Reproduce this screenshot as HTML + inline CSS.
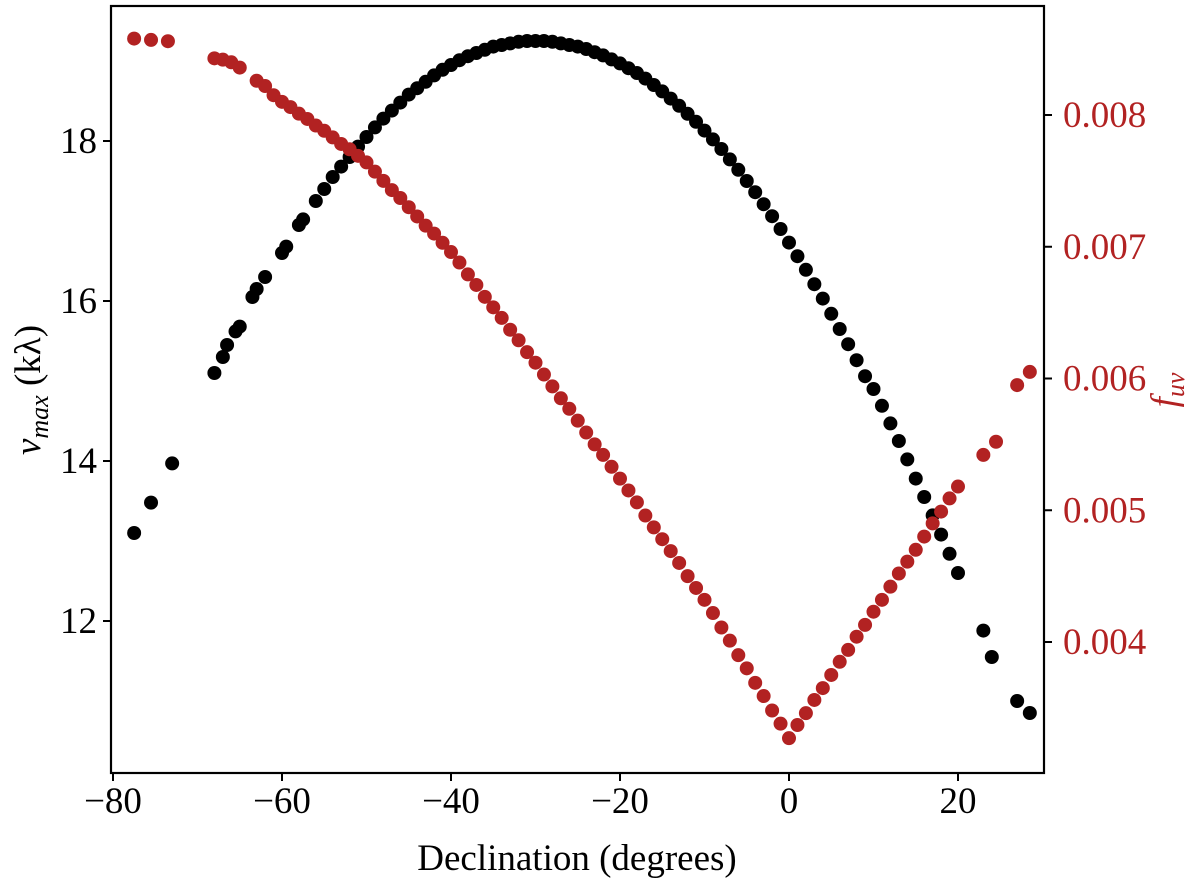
<!DOCTYPE html>
<html><head><meta charset="utf-8"><style>
html,body{margin:0;padding:0;background:#fff}
svg{display:block}
text{font-family:"Liberation Serif",serif}
</style></head><body>
<svg id="chart" width="1200" height="882" xmlns="http://www.w3.org/2000/svg">
<g id="marks"></g>
<g id="axes"></g>
</svg>
<script>
const xTicks=[-80,-60,-40,-20,0,20];
const xTickLabels=["\u221280","\u221260","\u221240","\u221220","0","20"];
const yLeftTicks=[12,14,16,18];
const yLeftTickLabels=["12","14","16","18"];
const yRightTicks=[0.004,0.005,0.006,0.007,0.008];
const yRightTickLabels=["0.004","0.005","0.006","0.007","0.008"];
const vmaxDec=[-77.5,-75.5,-73,-68,-67,-66.5,-65.5,-65,-63.5,-63,-62,-60,-59.5,-58,-57.5,-56,-55,-54,-53,
-52,-51,-50,-49,-48,-47,-46,-45,-44,-43,-42,-41,-40,-39,-38,-37,-36,-35,-34,-33,-32,-31,-30,
-29,-28,-27,-26,-25,-24,-23,-22,-21,-20,-19,-18,-17,-16,-15,-14,-13,-12,-11,-10,-9,-8,-7,-6,-5,-4,-3,-2,-1,0,
1,2,3,4,5,6,7,8,9,10,11,12,13,14,15,16,17,18,19,20,23,24,27,28.5];
const vmaxVal=[13.1,13.48,13.97,15.1,15.3,15.45,15.62,15.68,16.05,16.15,16.3,16.6,16.68,16.95,17.02,17.25,17.4,17.55,17.68,
17.80,17.93,18.05,18.17,18.28,18.38,18.48,18.58,18.66,18.74,18.82,18.89,18.95,19.01,19.06,19.10,19.14,19.18,19.20,19.22,19.24,19.25,19.25,
19.25,19.24,19.22,19.20,19.18,19.15,19.11,19.07,19.02,18.97,18.91,18.85,18.78,18.70,18.62,18.53,18.44,18.34,18.24,18.13,18.02,17.90,17.77,17.64,17.50,17.36,17.21,17.06,16.90,16.73,
16.56,16.39,16.21,16.03,15.84,15.65,15.46,15.26,15.06,14.90,14.69,14.47,14.25,14.02,13.78,13.55,13.32,13.08,12.84,12.60,11.88,11.55,11.0,10.85];
const fuvDec=[-77.5,-75.5,-73.5,-68,-67,-66,-65,-63,-62,-61,-60,-59,-58,-57,-56,-55,-54,-53,-52,-51,
-50,-49,-48,-47,-46,-45,-44,-43,-42,-41,-40,-39,-38,-37,-36,-35,-34,-33,-32,-31,-30,-29,-28,-27,-26,-25,-24,-23,-22,-21,
-20,-19,-18,-17,-16,-15,-14,-13,-12,-11,-10,-9,-8,-7,-6,-5,-4,-3,-2,-1,0,
1,2,3,4,5,6,7,8,9,10,11,12,13,14,15,16,17,18,19,20,23,24.5,27,28.5];
const fuvVal=[0.00858,0.00857,0.00856,0.00843,0.00842,0.00840,0.00836,0.00826,0.00822,0.00815,0.00810,0.00806,0.00801,0.00797,0.00792,0.00788,0.00783,0.00778,0.00774,0.00769,
0.00764,0.00757,0.00750,0.00743,0.00737,0.00730,0.00723,0.00716,0.00710,0.00703,0.00696,0.00688,0.00679,0.00671,0.00662,0.00654,0.00646,0.00637,0.00629,0.00620,0.00612,0.00603,0.00594,0.00585,0.00577,0.00568,0.00559,0.00550,0.00542,0.00533,
0.00524,0.00515,0.00506,0.00496,0.00487,0.00478,0.00469,0.00460,0.00450,0.00441,0.00432,0.00422,0.00411,0.00401,0.00390,0.00380,0.00369,0.00359,0.00348,0.00338,0.00327,
0.00337,0.00346,0.00356,0.00365,0.00375,0.00385,0.00394,0.00404,0.00413,0.00423,0.00432,0.00442,0.00452,0.00461,0.00470,0.00480,0.00490,0.00499,0.00509,0.00518,0.00542,0.00552,0.00595,0.00605];

const L=111,R=1044,T=6,B=773;
const xS=d=>113+(d+80)*8.45;
const yL=v=>141-(v-18)*80;
const yR=v=>115-(v-0.008)*131750;
const NS="http://www.w3.org/2000/svg";
const marks=document.getElementById('marks'),axes=document.getElementById('axes');
function mk(tag,attrs,parent){const e=document.createElementNS(NS,tag);for(const k in attrs)e.setAttribute(k,attrs[k]);parent.appendChild(e);return e;}
vmaxDec.forEach((d,i)=>{const c=mk('circle',{cx:xS(d),cy:yL(vmaxVal[i]),r:7,fill:'#000'},marks);

});
fuvDec.forEach((d,i)=>{const c=mk('circle',{cx:xS(d),cy:yR(fuvVal[i]),r:7,fill:'#b22222'},marks);

});
const fr=mk('rect',{x:L,y:T,width:R-L,height:B-T,fill:'none',stroke:'#000','stroke-width':2.2},axes);


xTicks.forEach((t,i)=>{const x=xS(t);mk('line',{x1:x,x2:x,y1:B,y2:B+8,stroke:'#000','stroke-width':2},axes);
const tx=mk('text',{x:x,y:B+40,'font-size':37,'text-anchor':'middle',fill:'#000'},axes);tx.textContent=xTickLabels[i];

});
yLeftTicks.forEach((t,i)=>{const y=yL(t);mk('line',{x1:L-8,x2:L,y1:y,y2:y,stroke:'#000','stroke-width':2},axes);
const tx=mk('text',{x:L-14,y:y+12,'font-size':37,'text-anchor':'end',fill:'#000'},axes);tx.textContent=yLeftTickLabels[i];

});
yRightTicks.forEach((t,i)=>{const y=yR(t);mk('line',{x1:R,x2:R+8,y1:y,y2:y,stroke:'#000','stroke-width':2},axes);
const tx=mk('text',{x:R+19,y:y+12,'font-size':37,'text-anchor':'start',fill:'#b22222'},axes);tx.textContent=yRightTickLabels[i];

});
</script>
<svg style="position:absolute;left:0;top:0" width="1200" height="882" xmlns="http://www.w3.org/2000/svg">
<text x="577" y="870" font-size="37" text-anchor="middle" font-family="Liberation Serif, serif">Declination (degrees)</text>
<text transform="translate(40,390) rotate(-90)" font-size="37" text-anchor="middle" font-family="Liberation Serif, serif"><tspan font-style="italic">v</tspan><tspan font-style="italic" font-size="26" dy="8">max</tspan><tspan dy="-8"> (kλ)</tspan></text>
<text transform="translate(1176,390) rotate(-90)" font-size="37" text-anchor="middle" fill="#b22222" font-family="Liberation Serif, serif"><tspan font-style="italic">f</tspan><tspan font-style="italic" font-size="26" dy="8">uv</tspan></text>
</svg>
</body></html>
